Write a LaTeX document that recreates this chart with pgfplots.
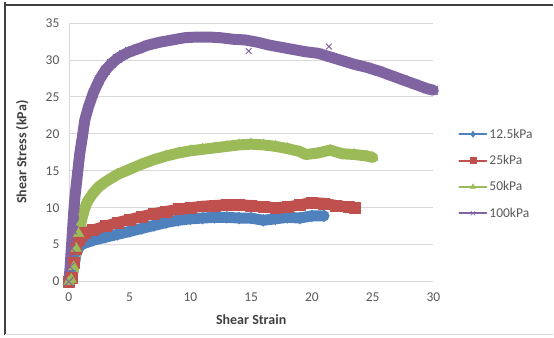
\documentclass[border=0pt]{standalone}
\usepackage{pgfplots}
\pgfplotsset{compat=1.18}
\usepackage{fontspec}
\setmainfont{Carlito}
\definecolor{cblue}{HTML}{4F81BD}
\definecolor{cred}{HTML}{C0504D}
\definecolor{cgreen}{HTML}{9BBB59}
\definecolor{cpurple}{HTML}{8064A2}
\definecolor{tickgray}{HTML}{595959}
\definecolor{titlegray}{HTML}{404040}
\definecolor{gridgray}{HTML}{D9D9D9}
\begin{document}
\begin{tikzpicture}[x=1pt,y=1pt]
\path (0,0) rectangle (554,338);
\draw[titlegray, line width=1.5pt] (5,336) -- (5,333) -- (554,333);
\draw[titlegray, line width=1.5pt] (5,333) -- (5,3);
\draw[gridgray, line width=1.2pt] (5,3) -- (554,3);
\begin{axis}[
  at={(69pt,56pt)}, anchor=south west,
  scale only axis, width=365pt, height=259pt,
  xmin=0, xmax=30, ymin=0, ymax=35,
  xtick={0,5,...,30}, ytick={0,5,...,35},
  ymajorgrids, major grid style={gridgray, line width=0.8pt},
  axis x line*=bottom, axis y line*=left,
  axis line style={gridgray, line width=0.8pt},
  major tick length=0pt,
  tick label style={font=\fontsize{13.5}{15}\selectfont, text=tickgray},
  /pgf/number format/assume math mode=true,
  yticklabel style={xshift=-6pt},
  xticklabel style={yshift=-8pt},
  xlabel={Shear Strain}, ylabel={Shear Stress (kPa)},
  every axis x label/.style={at={(axis description cs:0.5,-0.147)}, anchor=center, font=\bfseries\fontsize{14}{16}\selectfont, text=titlegray},
  every axis y label/.style={at={(axis description cs:-0.128,0.5)}, anchor=center, rotate=90, font=\bfseries\fontsize{14}{16}\selectfont, text=titlegray},
  clip=false,
  legend cell align=left,
  legend style={at={(axis description cs:1.06,0.607)}, anchor=north west, draw=none, fill=none,
    font=\fontsize{13.5}{15}\selectfont, text=tickgray, row sep=11.5pt},
  legend image code/.code={\draw[#1, line width=2pt, mark size=3pt, mark indices={2}, mark options={solid,line width=0.6pt}] plot coordinates {(0pt,0pt) (13.5pt,0pt) (27pt,0pt)};},
]
\addplot[cblue, line width=11pt, line join=round, line cap=round, mark=diamond*, mark size=6pt, mark options={line width=0.5pt}] coordinates {
(0,0) (0.2,0.3) (0.4,2) (0.6,3.8) (0.8,4.6) (1.0,5.0) (1.3,5.2) (2.0,5.6) (3.0,6.0) (4.0,6.4) (5.0,6.8) (6.0,7.2) (7.0,7.6) (8.0,8.0) (9.0,8.3) (10.0,8.5) (11.0,8.6) (12.0,8.7) (13.0,8.7) (14.0,8.6) (15.0,8.6) (16.0,8.3) (17.0,8.5) (18.0,8.7) (19.0,8.6) (20.0,8.9) (21.0,8.9)
};
\addlegendentry{12.5kPa}
\addplot[cred, line width=11pt, line join=round, line cap=round, mark=square*, mark size=5.5pt, mark options={line width=0.5pt}] coordinates {
(0,0) (0.2,0.5) (0.4,2.5) (0.6,4.5) (0.8,5.6) (1.0,6.2) (1.3,6.6) (2.0,7.0) (3.0,7.5) (4.0,8.0) (5.0,8.4) (6.0,8.8) (7.0,9.2) (8.0,9.5) (9.0,9.8) (10.0,10.0) (11.0,10.2) (12.0,10.3) (13.0,10.4) (14.0,10.4) (15.0,10.3) (16.0,10.1) (17.0,10.0) (18.0,10.1) (19.0,10.4) (20.0,10.7) (21.0,10.6) (22.0,10.3) (23.0,10.1) (23.5,10.0)
};
\addlegendentry{25kPa}
\addplot[cgreen, line width=11pt, line join=round, line cap=round, mark=triangle*, mark size=6pt, mark options={line width=0.5pt}] coordinates {
(0,0) (0.2,0.3) (0.4,2) (0.6,4.5) (0.8,6.5) (1.0,8) (1.2,9.4) (1.5,10.8) (2.0,12.0) (2.5,12.9) (3.0,13.5) (3.5,14.0) (4.0,14.5) (5.0,15.2) (6.0,15.9) (7.0,16.5) (8.0,17.0) (9.0,17.4) (10.0,17.7) (11.0,17.9) (12.0,18.1) (13.0,18.3) (14.0,18.5) (15.0,18.6) (16.0,18.5) (17.0,18.3) (18.0,18.0) (19.0,17.6) (19.5,17.2) (20.5,17.4) (21.5,17.8) (22.5,17.3) (23.5,17.2) (24.5,17.0) (25.0,16.8)
};
\addlegendentry{50kPa}
\addplot[cpurple, line width=11pt, line join=round, line cap=round, mark=x, mark size=6pt, mark options={line width=1pt}] coordinates {
(0,0) (0.1,2) (0.2,4.5) (0.3,7) (0.4,9.5) (0.5,11.5) (0.7,14.5) (0.9,17.4) (1.1,19.5) (1.3,21.8) (1.6,23.6) (2.0,25.5) (2.5,27.3) (3.0,28.6) (3.5,29.5) (4.0,30.2) (4.5,30.7) (5.0,31.1) (5.7,31.5) (6.5,32.0) (7.5,32.4) (8.5,32.7) (9.5,33.0) (10.5,33.1) (11.5,33.1) (12.5,33.0) (13.5,32.8) (14.5,32.7) (15.5,32.4) (16.5,32.0) (17.5,31.7) (18.5,31.4) (19.5,31.1) (20.5,30.9) (21.5,30.4) (22.5,29.9) (23.5,29.4) (24.5,29.0) (25.5,28.5) (26.5,27.9) (27.5,27.3) (28.5,26.7) (29.5,26.1) (30.0,25.9)
};
\addlegendentry{100kPa}
\addplot[cpurple, only marks, mark=x, mark size=4pt, line width=1pt, forget plot] coordinates {(14.8,31.2) (21.4,31.8)};
\end{axis}
\end{tikzpicture}
\end{document}
